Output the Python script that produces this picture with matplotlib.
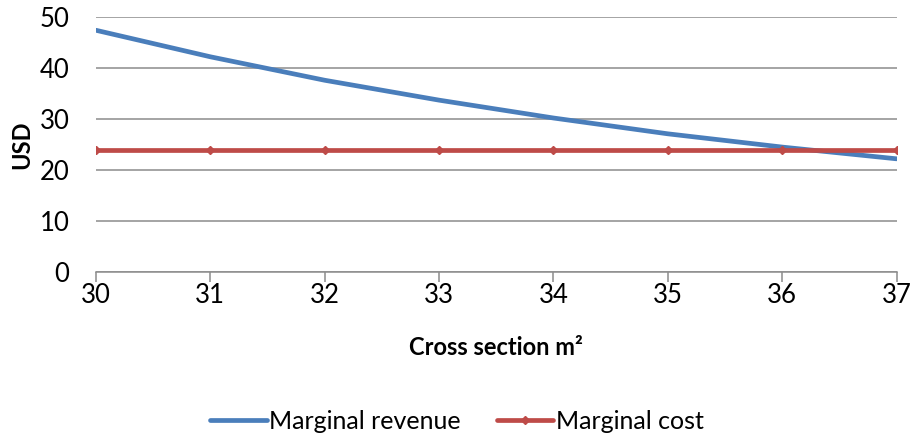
import matplotlib.pyplot as plt

cross_section = [30, 31, 32, 33, 34, 35, 36, 37]
marginal_revenue = [47.4, 42.2, 37.6, 33.7, 30.2, 27.1, 24.5, 22.2]
marginal_cost = [24, 24, 24, 24, 24, 24, 24, 24]

plt.rcParams["font.family"] = ["Lato", "DejaVu Sans"]

fig = plt.figure(figsize=(9.14, 4.36), dpi=100)
ax = fig.add_axes([0.105, 0.376, 0.876, 0.585])

ax.plot(cross_section, marginal_revenue, color="#4A7EBB", lw=3.4,
        solid_capstyle="round", label="Marginal revenue", zorder=3)
ax.plot(cross_section, marginal_cost, color="#BE4B48", lw=3.4,
        marker="D", markersize=4.5, solid_capstyle="round",
        label="Marginal cost", zorder=3)

ax.set_xlim(30, 37)
ax.set_ylim(0, 50)
ax.set_xticks(cross_section)
ax.set_yticks(range(0, 51, 10))
ax.grid(axis="y", color="#8C8C8C", lw=1.1)
ax.set_axisbelow(True)

for side in ("left", "right", "top"):
    ax.spines[side].set_visible(False)
ax.spines["bottom"].set_color("#8C8C8C")
ax.spines["bottom"].set_linewidth(1.1)

ax.tick_params(axis="x", direction="out", length=7, width=1.1,
               color="#8C8C8C", labelsize=18.5, pad=1)
ax.tick_params(axis="y", length=0, labelsize=18.5, pad=19)

ax.set_xlabel("Cross section m²", fontsize=17, fontweight="bold", labelpad=20)
ax.set_ylabel("USD", fontsize=17, fontweight="bold", labelpad=5)

fig.legend(loc="lower center", bbox_to_anchor=(0.5, -0.045), ncol=2,
           frameon=False, fontsize=18, handlelength=2.25,
           handletextpad=0.1, columnspacing=1.45)

fig.savefig("out.png", dpi=100)
